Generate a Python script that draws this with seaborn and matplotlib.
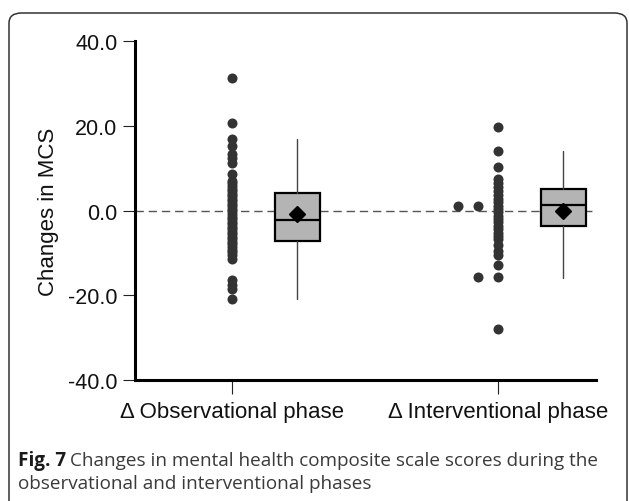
import numpy as np
import pandas as pd
import matplotlib
matplotlib.use("Agg")
import matplotlib.pyplot as plt
from matplotlib.patches import FancyBboxPatch
import seaborn as sns

# Phases on the x axis
phases = ["\u0394 Observational phase", "\u0394 Interventional phase"]

# Individual changes in MCS per participant
obs_changes = [31.2, 20.6, 17.0, 15.2, 13.4, 12.3, 11.2, 8.7, 7.0, 6.4, 5.8,
               5.2, 4.6, 4.0, 3.4, 2.8, 2.2, 1.6, 1.0, 0.4, -0.2, -0.8, -1.4,
               -2.0, -2.6, -3.2, -3.8, -4.4, -5.0, -5.6, -6.2, -6.8, -7.4,
               -8.0, -8.6, -9.2, -9.8, -10.6, -11.4, -16.4, -17.6, -18.6, -20.8]
int_changes = [19.8, 14.0, 10.3, 7.5, 6.6, 5.6, 4.6, 3.6, 2.8, 2.0, 1.2, 1.2,
               1.2, 0.4, -0.4, -1.2, -2.0, -2.8, -3.6, -4.4, -5.2, -6.0, -6.8,
               -8.2, -9.6, -10.6, -12.9, -15.6, -15.6, -28.0]

# Box summaries: lower whisker, Q1, median, Q3, upper whisker, mean
whisker_low = [-20.9, -15.9]
q1 = [-7.1, -3.7]
median = [-2.2, 1.3]
q3 = [4.1, 5.1]
whisker_high = [16.9, 14.0]
mean = [-0.9, -0.2]

yticks = [-40.0, -20.0, 0.0, 20.0, 40.0]

sns.set_theme(style="white")
plt.rcParams["font.family"] = ["Liberation Sans", "DejaVu Sans"]
plt.rcParams["axes.unicode_minus"] = False

# Long-form table; tied values are stacked sideways to the left
rows = []
for gi, vals in enumerate([obs_changes, int_changes]):
    seen = {}
    for v in vals:
        k = seen.get(v, 0)
        seen[v] = k + 1
        rows.append({"phase": phases[gi], "value": v, "xpos": gi - 0.075 * k})
df = pd.DataFrame(rows)

fig = plt.figure(figsize=(6.29, 5.02), dpi=100)
ax = fig.add_axes([0.2146, 0.241, 0.9475 - 0.2146, 0.916 - 0.241])

# reference line at zero
ax.axhline(0, color="#555555", lw=1.0, ls=(0, (6, 3.5)), zorder=1)

sns.scatterplot(data=df, x="xpos", y="value", ax=ax, color="#333333",
                s=52, linewidth=0, zorder=3, legend=False)

stats = []
for i in range(len(phases)):
    stats.append({"whislo": whisker_low[i], "q1": q1[i], "med": median[i],
                  "q3": q3[i], "whishi": whisker_high[i], "mean": mean[i],
                  "fliers": []})
ax.bxp(stats, positions=[0.245, 1.245], widths=0.17, patch_artist=True,
       showmeans=True, showcaps=False, showfliers=False,
       boxprops=dict(facecolor="#b4b4b4", edgecolor="black", linewidth=1.6),
       medianprops=dict(color="black", linewidth=1.6),
       whiskerprops=dict(color="#444444", linewidth=1.0),
       meanprops=dict(marker="D", markerfacecolor="black",
                      markeredgecolor="black", markersize=8),
       zorder=4, manage_ticks=False)

ax.set_xlim(-0.3647, 1.368)
ax.set_ylim(-40, 40)
ax.set_xticks([0, 1])
ax.set_xticklabels(phases)
ax.set_yticks(yticks)
ax.set_yticklabels([f"{t:.1f}" for t in yticks])
ax.set_xlabel("")
ax.set_ylabel("Changes in MCS", fontsize=16, color="#111111")
ax.yaxis.set_label_coords(-0.165, 0.5)

for side in ["top", "right"]:
    ax.spines[side].set_visible(False)
for side in ["left", "bottom"]:
    ax.spines[side].set_color("black")
    ax.spines[side].set_linewidth(2.2)
ax.tick_params(axis="both", which="major", direction="out", length=9,
               width=0.8, color="#222222", labelsize=15.5, labelcolor="#111111",
               pad=3.5, left=True, bottom=True)
ax.tick_params(axis="x", length=10, pad=5, labelsize=16)

# caption below the chart
cap_font = ["Open Sans", "DejaVu Sans"]
cap_size = 13.6
t1 = fig.text(18 / 629, 1 - 466 / 502, "Fig. 7", fontsize=cap_size,
              fontweight="bold", family=cap_font, color="#1a1a1a")
fig.canvas.draw()
bb = t1.get_window_extent(fig.canvas.get_renderer())
x_after = (bb.x1 + 4) / fig.bbox.width
fig.text(x_after, 1 - 466 / 502,
         "Changes in mental health composite scale scores during the",
         fontsize=cap_size, family=cap_font, color="#3a3a3a")
fig.text(18 / 629, 1 - 489 / 502, "observational and interventional phases",
         fontsize=cap_size, family=cap_font, color="#3a3a3a")

# rounded frame around the figure panel
frame = FancyBboxPatch((9 / 629, -0.05), 618 / 629, 1.05 - 14 / 502,
                       boxstyle="round,pad=0,rounding_size=0.02",
                       transform=fig.transFigure, fill=False,
                       edgecolor="#333333", linewidth=1.1, clip_on=False)
fig.add_artist(frame)

fig.savefig("out.png", dpi=100)
